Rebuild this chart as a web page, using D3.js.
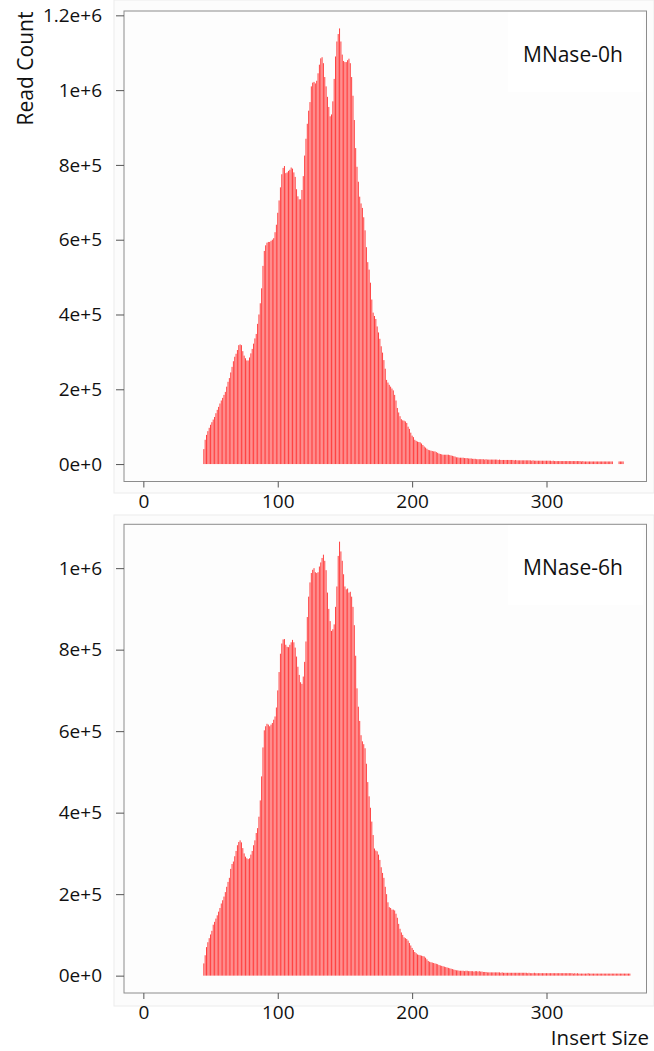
<!DOCTYPE html>
<html>
<head>
<meta charset="utf-8">
<script src="https://cdn.jsdelivr.net/npm/d3@7"></script>
<style>
  html, body { margin: 0; padding: 0; background: #fff; }
  svg { display: block; font-family: "Open Sans", sans-serif; }
</style>
</head>
<body>
<svg id="chart" width="654" height="1051"></svg>
<script>
// read counts (thousands) for each insert size, one value per bp from firstSize on
const firstSize = 45;

const mnase0h = [
  40, 65, 78, 88, 97, 105, 112, 119, 126, 136,
  145, 153, 162, 170, 177, 185, 193, 207, 220, 230,
  245, 260, 275, 287, 295, 305, 318, 320, 318, 302,
  290, 283, 277, 277, 285, 296, 308, 322, 336, 348,
  375, 400, 430, 470, 530, 570, 585, 592, 594, 594,
  597, 600, 604, 620, 640, 672, 705, 740, 775, 792,
  797, 778, 780, 784, 787, 793, 790, 780, 768, 735,
  716, 708, 708, 733, 770, 825, 870, 910, 945, 968,
  1010, 1020, 1022, 1018, 1025, 1045, 1068, 1085, 1088, 1072,
  1035, 1010, 982, 955, 930, 935, 970, 1030, 1090, 1130,
  1150, 1165, 1130, 1095, 1078, 1075, 1075, 1080, 1084, 1072,
  1035, 985, 920, 845, 795, 755, 715, 697, 685, 660,
  625, 580, 540, 520, 485, 440, 405, 396, 388, 368,
  352, 335, 315, 298, 278, 255, 225, 218, 212, 207,
  202, 197, 185, 170, 150, 138, 128, 120, 117, 116,
  114, 110, 100, 94, 84, 76, 72, 65, 62, 60,
  59, 58, 55, 51, 47, 44, 41, 38, 37, 36,
  35, 34, 34, 32, 30, 28, 27, 26, 25, 25,
  25, 25, 25, 24, 23, 22, 21, 20, 18, 18,
  17, 17, 17, 17, 16, 16, 16, 15, 15, 15,
  14, 14, 14, 13, 13, 13, 13, 13, 13, 12,
  13, 12, 12, 12, 12, 12, 12, 12, 12, 11,
  12, 11, 11, 11, 11, 11, 11, 11, 11, 11,
  11, 10, 11, 10, 10, 10, 10, 10, 10, 10,
  10, 10, 10, 10, 9, 10, 9, 9, 9, 9,
  9, 9, 9, 9, 9, 9, 9, 9, 9, 8,
  9, 8, 8, 8, 8, 8, 8, 8, 8, 8,
  8, 8, 8, 8, 8, 8, 8, 8, 8, 8,
  8, 7, 8, 7, 7, 7, 7, 7, 7, 7,
  7, 7, 7, 7, 7, 7, 7, 7, 7, 7,
  7, 7, 7, 7, 7, 0, 0, 0, 0, 7,
  7, 7, 7
];

const mnase6h = [
  30, 50, 70, 82, 92, 101, 110, 125, 132, 140,
  148, 157, 166, 177, 185, 194, 205, 218, 230, 240,
  262, 274, 280, 293, 306, 320, 328, 332, 327, 313,
  300, 292, 288, 286, 288, 297, 306, 320, 332, 350,
  362, 390, 430, 489, 560, 602, 612, 618, 616, 612,
  616, 620, 628, 636, 658, 700, 745, 790, 815, 825,
  826, 812, 807, 806, 812, 818, 824, 818, 805, 783,
  758, 738, 720, 716, 734, 770, 820, 880, 930, 965,
  988, 996, 1000, 990, 988, 990, 1004, 1014, 1025, 1033,
  1018, 995, 940, 900, 870, 846, 850, 862, 905, 955,
  1030, 1065, 1041, 1018, 985, 955, 948, 950, 940, 942,
  930, 905, 860, 785, 705, 660, 625, 590, 575, 568,
  558, 520, 475, 440, 412, 378, 345, 312, 307, 305,
  297, 284, 266, 252, 240, 218, 200, 180, 168, 166,
  162, 162, 160, 152, 142, 127, 115, 106, 100, 94,
  92, 90, 86, 80, 74, 68, 63, 58, 55, 52,
  51, 50, 49, 48, 47, 44, 40, 36, 34, 33,
  32, 31, 30, 29, 28, 26, 25, 24, 23, 22,
  21, 20, 19, 18, 17, 16, 15, 14, 13, 13,
  12, 12, 12, 12, 11, 12, 12, 11, 11, 11,
  11, 10, 11, 11, 10, 11, 10, 10, 9, 9,
  9, 8, 8, 8, 8, 8, 8, 8, 8, 8,
  8, 7, 8, 7, 7, 7, 7, 7, 7, 7,
  7, 7, 7, 7, 7, 7, 7, 7, 7, 7,
  7, 6, 7, 6, 6, 6, 7, 6, 6, 6,
  6, 6, 6, 6, 6, 6, 6, 6, 6, 6,
  6, 6, 6, 6, 6, 6, 6, 6, 6, 6,
  6, 6, 6, 6, 6, 5, 6, 5, 6, 5,
  5, 5, 5, 5, 5, 5, 6, 5, 5, 5,
  5, 5, 5, 5, 5, 5, 5, 5, 5, 5,
  5, 5, 5, 5, 5, 5, 5, 5, 5, 5,
  5, 5, 5, 5, 5, 5, 5, 5
];

const panelNames = ['MNase-0h', 'MNase-6h'];
const xLimits = [0, 360];
const xTickValues = [0, 100, 200, 300];
const yTickValues0h = [0, 200, 400, 600, 800, 1000, 1200];
const yTickLabels0h = ['0e+0', '2e+5', '4e+5', '6e+5', '8e+5', '1e+6', '1.2e+6'];
const yTickValues6h = [0, 200, 400, 600, 800, 1000];
const yTickLabels6h = ['0e+0', '2e+5', '4e+5', '6e+5', '8e+5', '1e+6'];

const svg = d3.select('#chart');

const panels = [
  { name: panelNames[0], values: mnase0h, ticks: yTickValues0h, labels: yTickLabels0h,
    top: 11, bottom: 481.5, frame: [114, 0, 540, 493] },
  { name: panelNames[1], values: mnase6h, ticks: yTickValues6h, labels: yTickLabels6h,
    top: 524.3, bottom: 993, frame: [114, 515, 540, 491] }
];

const boxLeft = 124;
const boxRight = 646.5;

// R style 4% padding on both axes
const pad = (lo, hi) => [lo - (hi - lo) * 0.04, hi + (hi - lo) * 0.04];

const x = d3.scaleLinear().domain(pad(xLimits[0], xLimits[1])).range([boxLeft, boxRight]);

panels.forEach(p => {
  const yMax = d3.max(p.values);
  const y = d3.scaleLinear().domain(pad(0, yMax)).range([p.bottom, p.top]);

  const g = svg.append('g');

  // faint frame behind the panel
  g.append('rect')
    .attr('x', p.frame[0]).attr('y', p.frame[1])
    .attr('width', p.frame[2]).attr('height', p.frame[3])
    .attr('fill', '#fcfcfc')
    .attr('stroke', '#ececec');

  g.append('rect')
    .attr('x', boxLeft).attr('y', p.top)
    .attr('width', boxRight - boxLeft).attr('height', p.bottom - p.top)
    .attr('fill', '#fdfdfd');

  // legend area
  g.append('rect')
    .attr('x', 508).attr('y', p.top + 1)
    .attr('width', 135).attr('height', 80)
    .attr('fill', '#ffffff');

  const rows = p.values.map((v, i) => ({ size: firstSize + i, count: v }));

  g.append('g')
    .selectAll('line')
    .data(rows.filter(d => d.count > 0))
    .join('line')
    .attr('x1', d => x(d.size))
    .attr('x2', d => x(d.size))
    .attr('y1', y(0))
    .attr('y2', d => y(d.count))
    .attr('stroke', '#ff0000')
    .attr('stroke-width', 0.75);

  g.append('rect')
    .attr('x', boxLeft).attr('y', p.top)
    .attr('width', boxRight - boxLeft).attr('height', p.bottom - p.top)
    .attr('fill', 'none')
    .attr('stroke', '#8c8c8c');

  const yAxis = g.append('g')
    .attr('transform', `translate(${boxLeft},0)`)
    .call(d3.axisLeft(y).tickValues(p.ticks).tickFormat((d, i) => p.labels[i]).tickSize(8).tickPadding(14));
  yAxis.select('.domain').remove();
  yAxis.selectAll('line').attr('stroke', '#555');
  yAxis.selectAll('text').attr('font-size', 19).attr('fill', '#111').attr('font-family', '"Open Sans", sans-serif');

  const xAxis = g.append('g')
    .attr('transform', `translate(0,${p.bottom})`)
    .call(d3.axisBottom(x).tickValues(xTickValues).tickFormat(d3.format('d')).tickSize(6).tickPadding(7));
  xAxis.select('.domain').remove();
  xAxis.selectAll('line').attr('stroke', '#555');
  xAxis.selectAll('text').attr('font-size', 19).attr('fill', '#111').attr('font-family', '"Open Sans", sans-serif');

  g.append('text')
    .attr('x', 523)
    .attr('y', p.top + 50.5)
    .attr('font-size', 21)
    .attr('fill', '#111')
    .text(p.name);
});

svg.append('text')
  .attr('transform', 'translate(33,68.5) rotate(-90)')
  .attr('text-anchor', 'middle')
  .attr('font-size', 21)
  .attr('fill', '#111')
  .text('Read Count');

svg.append('text')
  .attr('x', 649)
  .attr('y', 1045)
  .attr('text-anchor', 'end')
  .attr('font-size', 20.5)
  .attr('fill', '#111')
  .text('Insert Size');
</script>
</body>
</html>
